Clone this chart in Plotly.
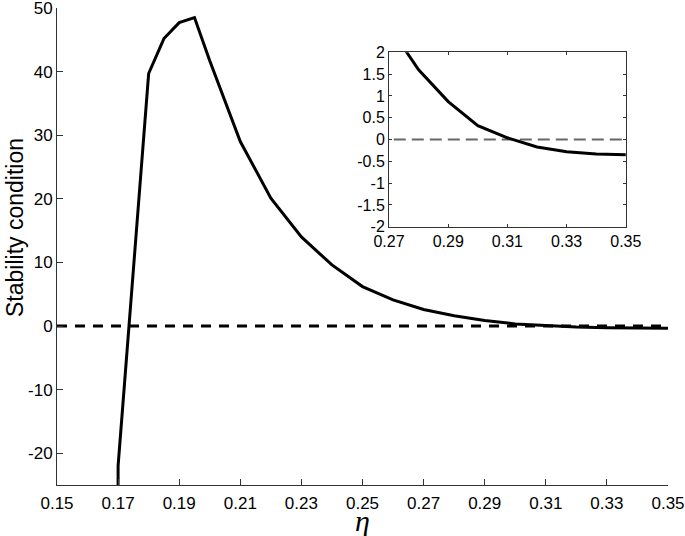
import plotly.graph_objects as go

# data
eta = [0.165, 0.17, 0.18, 0.185, 0.19, 0.195, 0.20, 0.21, 0.22, 0.23, 0.24, 0.25,
       0.26, 0.27, 0.28, 0.29, 0.30, 0.31, 0.32, 0.33, 0.34, 0.35]
stability = [-1500, -22, 39.7, 45.2, 47.7, 48.5, 41.7, 29.0, 20.1, 14.0, 9.6, 6.2,
             4.1, 2.6, 1.6, 0.87, 0.32, 0.04, -0.17, -0.28, -0.33, -0.35]
zero_x = [0.15, 0.35]
zero_y = [0, 0]

main_xticks = [0.15, 0.17, 0.19, 0.21, 0.23, 0.25, 0.27, 0.29, 0.31, 0.33, 0.35]
main_yticks = [-20, -10, 0, 10, 20, 30, 40, 50]
inset_xticks = [0.27, 0.29, 0.31, 0.33, 0.35]
inset_yticks = [-2, -1.5, -1, -0.5, 0, 0.5, 1, 1.5, 2]

FONT = "Liberation Sans, Arial, Helvetica, sans-serif"
AX = "#333333"

fig = go.Figure()
fig.add_trace(go.Scatter(x=zero_x, y=zero_y, mode="lines",
                         line=dict(color="black", width=3, dash="10px,8px"),
                         showlegend=False, hoverinfo="skip"))
fig.add_trace(go.Scatter(x=eta, y=stability, mode="lines",
                         line=dict(color="black", width=3),
                         showlegend=False))
# inset
fig.add_trace(go.Scatter(x=zero_x, y=zero_y, mode="lines", xaxis="x2", yaxis="y2",
                         line=dict(color="#666666", width=2, dash="12px,6px"),
                         showlegend=False, hoverinfo="skip"))
fig.add_trace(go.Scatter(x=eta, y=stability, mode="lines", xaxis="x2", yaxis="y2",
                         line=dict(color="black", width=3),
                         showlegend=False))

fig.update_layout(
    width=685, height=536,
    margin=dict(l=57, r=17, t=8, b=51, autoexpand=False),
    paper_bgcolor="white", plot_bgcolor="white",
    font=dict(family=FONT, size=16, color="black"),
    xaxis=dict(range=[0.15, 0.35], tickvals=main_xticks,
               ticktext=[f"{v:.2f}" for v in main_xticks],
               tickfont=dict(size=17), ticklabelstandoff=3,
               showline=True, linecolor=AX, linewidth=1, ticks="inside",
               ticklen=6, tickcolor=AX, showgrid=False, zeroline=False,
               domain=[0, 1], automargin=False, ticklabeloverflow="allow"),
    yaxis=dict(range=[-25, 50], tickvals=main_yticks,
               ticktext=[str(v) for v in main_yticks],
               tickfont=dict(size=17),
               showline=True, linecolor=AX, linewidth=1, ticks="inside",
               ticklen=6, tickcolor=AX, showgrid=False, zeroline=False,
               domain=[0, 1], automargin=False, ticklabeloverflow="allow"),
    xaxis2=dict(range=[0.27, 0.35], tickvals=inset_xticks,
                ticktext=[f"{v:.2f}" for v in inset_xticks],
                tickfont=dict(size=16),
                domain=[0.5434, 0.931], anchor="y2",
                showline=True, mirror="ticks", linecolor=AX, linewidth=1,
                ticks="inside", ticklen=3, tickcolor=AX,
                showgrid=False, zeroline=False, automargin=False),
    yaxis2=dict(range=[-2, 2], tickvals=inset_yticks,
                ticktext=[f"{v:g}" for v in inset_yticks],
                tickfont=dict(size=16),
                domain=[0.5415, 0.907], anchor="x2",
                showline=True, mirror="ticks", linecolor=AX, linewidth=1,
                ticks="inside", ticklen=3, tickcolor=AX,
                showgrid=False, zeroline=False, automargin=False),
    annotations=[
        dict(text="Stability condition", xref="paper", yref="paper",
             x=-57/611, xanchor="left", y=(485-228)/477, yanchor="middle",
             textangle=-90, showarrow=False,
             font=dict(family=FONT, size=23, color="black")),
        dict(text="<i>η</i>", xref="paper", yref="paper",
             x=(362-57)/611, xanchor="center", y=(485-520)/477, yanchor="middle",
             showarrow=False,
             font=dict(family="Liberation Serif, DejaVu Serif, serif", size=30, color="black")),
    ],
)

fig.write_html("out.html", config={"displayModeBar": False},
               post_script="document.body.style.margin='0px';document.body.style.padding='0px';")
